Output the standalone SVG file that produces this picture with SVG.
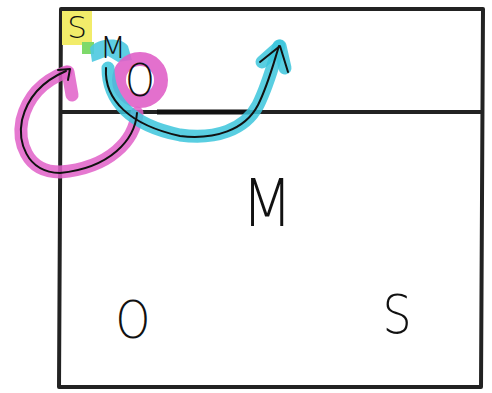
<svg xmlns="http://www.w3.org/2000/svg" width="492" height="393" viewBox="0 0 492 393">
<style>
.box{fill:none;stroke:#222;stroke-width:4;stroke-linejoin:round}
.hl{fill:none;stroke-linecap:round;stroke-linejoin:round;stroke-width:13;opacity:0.85}
.pen{fill:none;stroke:#111;stroke-width:2;stroke-linecap:round;stroke-linejoin:round}
.t{font-family:"DejaVu Sans","Liberation Sans",sans-serif;font-weight:200;fill:#111;text-anchor:middle}
</style>
<rect x="0" y="0" width="492" height="393" fill="#fff"/>
<g id="frame">
<path class="box" d="M61 9 L483 9 L481 387 L59 387 Z"/>
<path class="box" d="M61 112 L483 112"/>
<path d="M157 112 L250 112" stroke="#111" stroke-width="5"/>
</g>
<g id="highlights">
<rect x="62" y="11" width="30" height="34" fill="#f2ec6a"/>
<rect x="82" y="42" width="12" height="12" fill="#7ed96a"/>
<path d="M90 48 C95 38 122 36 128 46 L132 60 L118 62 L108 56 L92 62 Z" fill="#4cc9e0" opacity="0.9"/>
<circle cx="140" cy="80" r="21" fill="none" stroke="#e060c8" stroke-width="14" opacity="0.9"/>
</g>
<g id="connectors">
<path class="hl" stroke="#e060c8" d="M137 113 C135 140 110 168 60 172 C25 172 18 140 22 120 C28 95 45 80 66 72"/>
<path class="hl" stroke="#e060c8" d="M68 72 L72 95"/>
<path class="hl" stroke="#3cc6dc" d="M108 68 C108 100 130 125 180 135 C215 140 245 130 258 105 C268 85 273 65 279 46"/>
<path class="hl" stroke="#3cc6dc" d="M262 62 L280 46 L285 68"/>
<path class="pen" d="M137 113 C135 140 110 168 60 173 C25 172 18 140 22 120 C28 95 45 80 66 71"/>
<path class="pen" d="M58 70 L70 69 L68 80"/>
<path class="pen" d="M106 68 C104 100 130 125 180 136 C215 140 245 130 258 105 C268 85 273 65 279 46"/>
<path class="pen" d="M260 62 L280 46 L288 72"/>
</g>
<g id="label-top">
<text class="t" x="77" y="38" font-size="31">S</text>
<text class="t" x="113" y="58" font-size="30">M</text>
<text class="t" x="140" y="96" font-size="44" transform="translate(140 0) scale(0.85 1) translate(-140 0)">O</text>
</g>
<g id="label-bottom">
<text class="t" x="267" y="226" font-size="66" transform="translate(267 0) scale(0.9 1) translate(-267 0)">M</text>
<text class="t" x="133" y="338" font-size="52" transform="translate(133 0) scale(0.85 1) translate(-133 0)">O</text>
<text class="t" x="397" y="333" font-size="54" transform="translate(397 0) scale(0.85 1) translate(-397 0)">S</text>
</g>
</svg>
